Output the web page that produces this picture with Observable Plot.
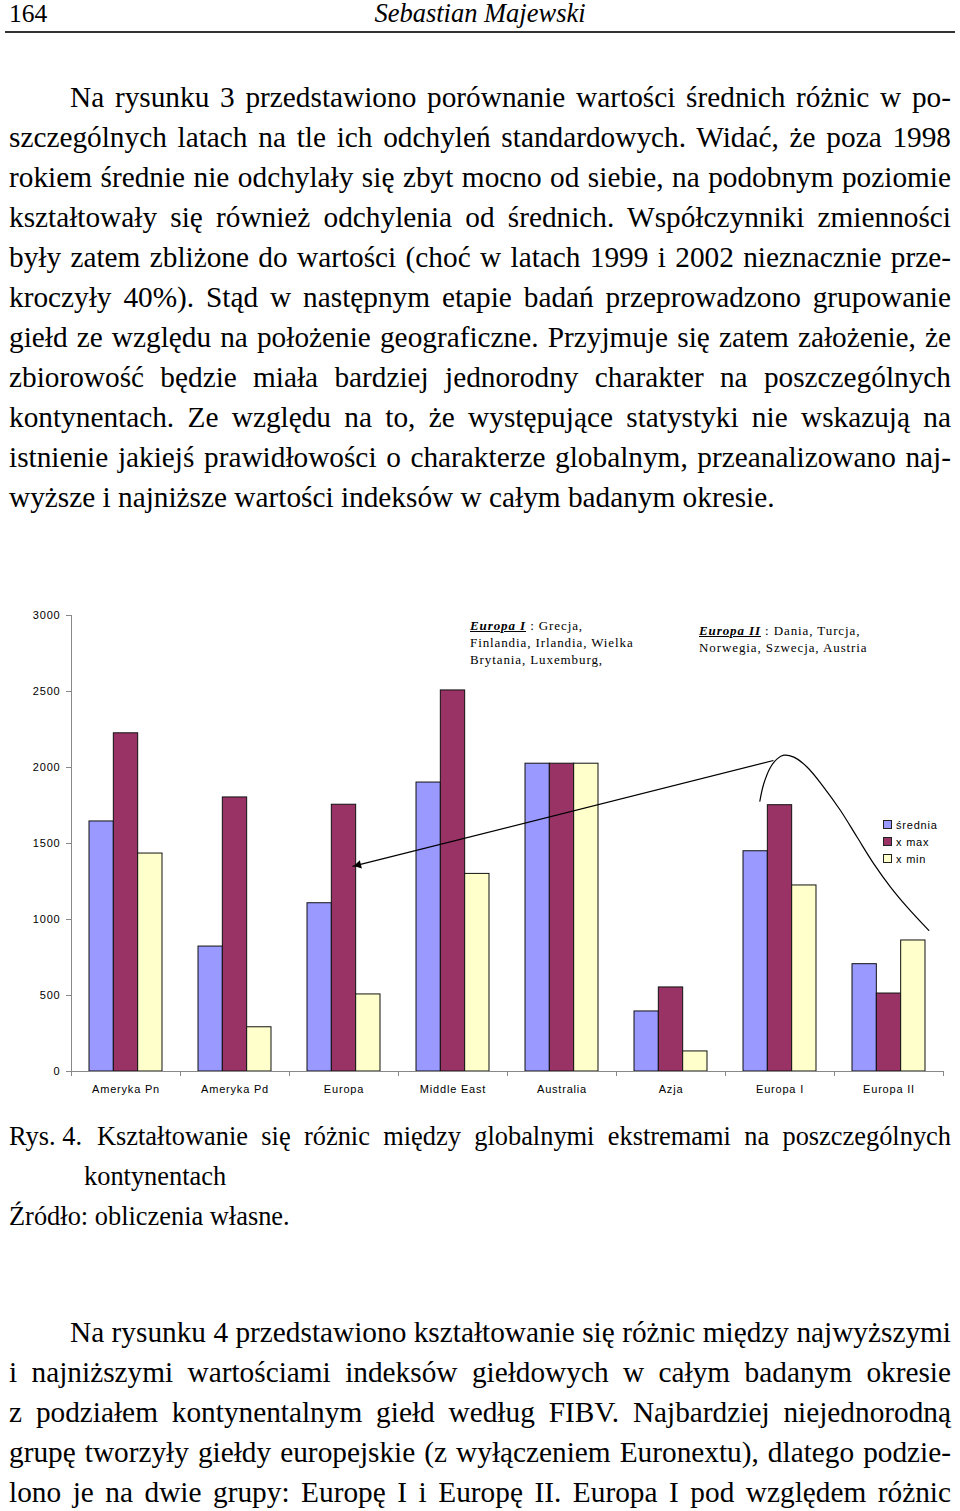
<!DOCTYPE html>
<html><head><meta charset="utf-8">
<script src="https://cdn.jsdelivr.net/npm/d3@7"></script>
<script src="https://cdn.jsdelivr.net/npm/@observablehq/plot@0.6"></script>
<style>
html,body{margin:0;padding:0;background:#fff}
body{width:960px;height:1511px;position:relative;overflow:hidden;font-family:"Liberation Serif","Times New Roman",serif;color:#000}
.ln{position:absolute;left:9px;width:942px;box-sizing:border-box;font-size:29.3px;line-height:40px;height:40px;text-align:justify;text-align-last:justify;overflow:visible}
.ln.last{text-align-last:left}
.ln.cap{font-size:26.4px}
.ind{padding-left:61px}
#chart{position:absolute;left:0;top:600px}
.note{position:absolute;font-family:"Liberation Serif","Times New Roman",serif;font-size:13px;line-height:17px;letter-spacing:0.9px;white-space:nowrap}
.note u{font-weight:bold;font-style:italic}
#legend{position:absolute;left:883px;top:816px;font-family:"Liberation Sans",Arial,sans-serif;font-size:11px;letter-spacing:0.8px}
#legend .row{display:flex;align-items:center;height:17px}
#legend .sw{width:7px;height:7px;border:1px solid #222;margin-right:4px}
</style></head>
<body>
<div style="position:absolute;left:9px;top:1px;font-size:25.5px;line-height:25px">164</div>
<div style="position:absolute;left:0;width:960px;top:1px;font-size:26.5px;line-height:25px;text-align:center;font-style:italic">Sebastian Majewski</div>
<div style="position:absolute;left:5px;top:31px;width:950px;height:2px;background:#333"></div>

<div class="ln ind" style="top:77px">Na rysunku 3 przedstawiono porównanie wartości średnich różnic w po-</div>
<div class="ln" style="top:117px">szczególnych latach na tle ich odchyleń standardowych. Widać, że poza 1998</div>
<div class="ln" style="top:157px">rokiem średnie nie odchylały się zbyt mocno od siebie, na podobnym poziomie</div>
<div class="ln" style="top:197px">kształtowały się również odchylenia od średnich. Współczynniki zmienności</div>
<div class="ln" style="top:237px">były zatem zbliżone do wartości (choć w latach 1999 i 2002 nieznacznie prze-</div>
<div class="ln" style="top:277px">kroczyły 40%). Stąd w następnym etapie badań przeprowadzono grupowanie</div>
<div class="ln" style="top:317px">giełd ze względu na położenie geograficzne. Przyjmuje się zatem założenie, że</div>
<div class="ln" style="top:357px">zbiorowość będzie miała bardziej jednorodny charakter na poszczególnych</div>
<div class="ln" style="top:397px">kontynentach. Ze względu na to, że występujące statystyki nie wskazują na</div>
<div class="ln" style="top:437px">istnienie jakiejś prawidłowości o charakterze globalnym, przeanalizowano naj-</div>
<div class="ln last" style="top:477px">wyższe i najniższe wartości indeksów w całym badanym okresie.</div>

<div id="chart"></div>
<div class="note" style="left:470px;top:617px"><u>Europa I</u> : Grecja,<br>Finlandia, Irlandia, Wielka<br>Brytania, Luxemburg,</div>
<div class="note" style="left:699px;top:622px"><u>Europa II</u> : Dania, Turcja,<br>Norwegia, Szwecja, Austria</div>
<div id="legend"></div>

<div class="ln cap last" style="top:1116px;width:auto">Rys. 4.</div>
<div class="ln cap" style="top:1116px;left:97px;width:854px">Kształtowanie się różnic między globalnymi ekstremami na poszczególnych</div>
<div class="ln cap last" style="top:1156px;left:84px;width:auto">kontynentach</div>
<div class="ln cap last" style="top:1196px">Źródło: obliczenia własne.</div>

<div class="ln ind" style="top:1312px">Na rysunku 4 przedstawiono kształtowanie się różnic między najwyższymi</div>
<div class="ln" style="top:1352px">i najniższymi wartościami indeksów giełdowych w całym badanym okresie</div>
<div class="ln" style="top:1392px">z podziałem kontynentalnym giełd według FIBV. Najbardziej niejednorodną</div>
<div class="ln" style="top:1432px">grupę tworzyły giełdy europejskie (z wyłączeniem Euronextu), dlatego podzie-</div>
<div class="ln" style="top:1472px">lono je na dwie grupy: Europę I i Europę II. Europa I pod względem różnic</div>

<script>
const categories = ["Ameryka Pn", "Ameryka Pd", "Europa", "Middle East", "Australia", "Azja", "Europa I", "Europa II"];
const seriesNames = ["średnia", "x max", "x min"];
const sredniaValues = [1645, 822, 1107, 1901, 2025, 395, 1449, 706];
const maxValues = [2225, 1803, 1755, 2507, 2025, 553, 1752, 513];
const minValues = [1434, 291, 507, 1300, 2025, 132, 1224, 862];
const yTicks = [0, 500, 1000, 1500, 2000, 2500, 3000];
const seriesColors = ["#9999FF", "#993366", "#FFFFCC"];
// hand-drawn annotation, in chart units (x: category slots, y: value)
const curvePoints = [[6.315,1778],[6.351,1893],[6.413,2002],[6.474,2057],[6.535,2081],[6.627,2068],[6.750,2002],[6.902,1870],[7.055,1717],[7.208,1541],[7.361,1366],[7.514,1213],[7.667,1081],[7.865,928]];
const arrowFrom = [6.44, 2046];
const arrowTo = [2.578, 1349];

const seriesValues = [sredniaValues, maxValues, minValues];
const rows = categories.flatMap((c, i) => seriesNames.map((s, j) => ({category: c, index: i, series: s, value: seriesValues[j][i]})));
const inner = d3.scaleBand().domain(seriesNames).range([0, 1]).paddingInner(0).paddingOuter(0.74);

const chart = Plot.plot({
  width: 960, height: 500,
  marginTop: 15, marginBottom: 29, marginLeft: 71, marginRight: 17,
  style: {fontFamily: "'Liberation Sans', Arial, sans-serif", fontSize: "11px", letterSpacing: "0.8px", background: "transparent", overflow: "visible"},
  x: {domain: [0, categories.length], axis: null},
  y: {domain: [0, 3000], axis: null},
  color: {domain: seriesNames, range: seriesColors},
  marks: [
    Plot.rectY(rows, {
      x1: d => d.index + inner(d.series),
      x2: d => d.index + inner(d.series) + inner.bandwidth(),
      y1: 0, y2: "value",
      fill: "series", stroke: "#111", strokeWidth: 1
    }),
    Plot.ruleX([0], {stroke: "#888"}),
    Plot.ruleY([0], {stroke: "#888"}),
    Plot.axisY({ticks: yTicks, tickSize: 5, tickPadding: 6, tickFormat: d => String(d), label: null, stroke: "#888", fill: "#000"}),
    Plot.axisX(d3.range(categories.length + 1), {tickSize: 5, tickFormat: () => "", label: null, stroke: "#888"}),
    Plot.axisX(categories.map((c, i) => i + 0.5), {tickSize: 0, tickPadding: 14, tickFormat: v => categories[Math.floor(v)], label: null, fill: "#000"}),
    Plot.line(curvePoints, {x: d => d[0], y: d => d[1], curve: "catmull-rom", stroke: "#000", strokeWidth: 1.2}),
    Plot.link([{from: arrowFrom, to: arrowTo}], {x1: d => d.from[0], y1: d => d.from[1], x2: d => d.to[0], y2: d => d.to[1], stroke: "#000", strokeWidth: 1.2}),
    Plot.dot([arrowTo], {x: d => d[0], y: d => d[1], symbol: "triangle2", r: 4, fill: "#000", stroke: null, rotate: 256, dx: 6, dy: -1.5})
  ]
});
document.getElementById("chart").appendChild(chart);

const legend = document.getElementById("legend");
seriesNames.forEach((s, j) => {
  const row = document.createElement("div");
  row.className = "row";
  const sw = document.createElement("span");
  sw.className = "sw";
  sw.style.background = seriesColors[j];
  const t = document.createElement("span");
  t.textContent = s;
  row.appendChild(sw); row.appendChild(t);
  legend.appendChild(row);
});
</script>
</body></html>
